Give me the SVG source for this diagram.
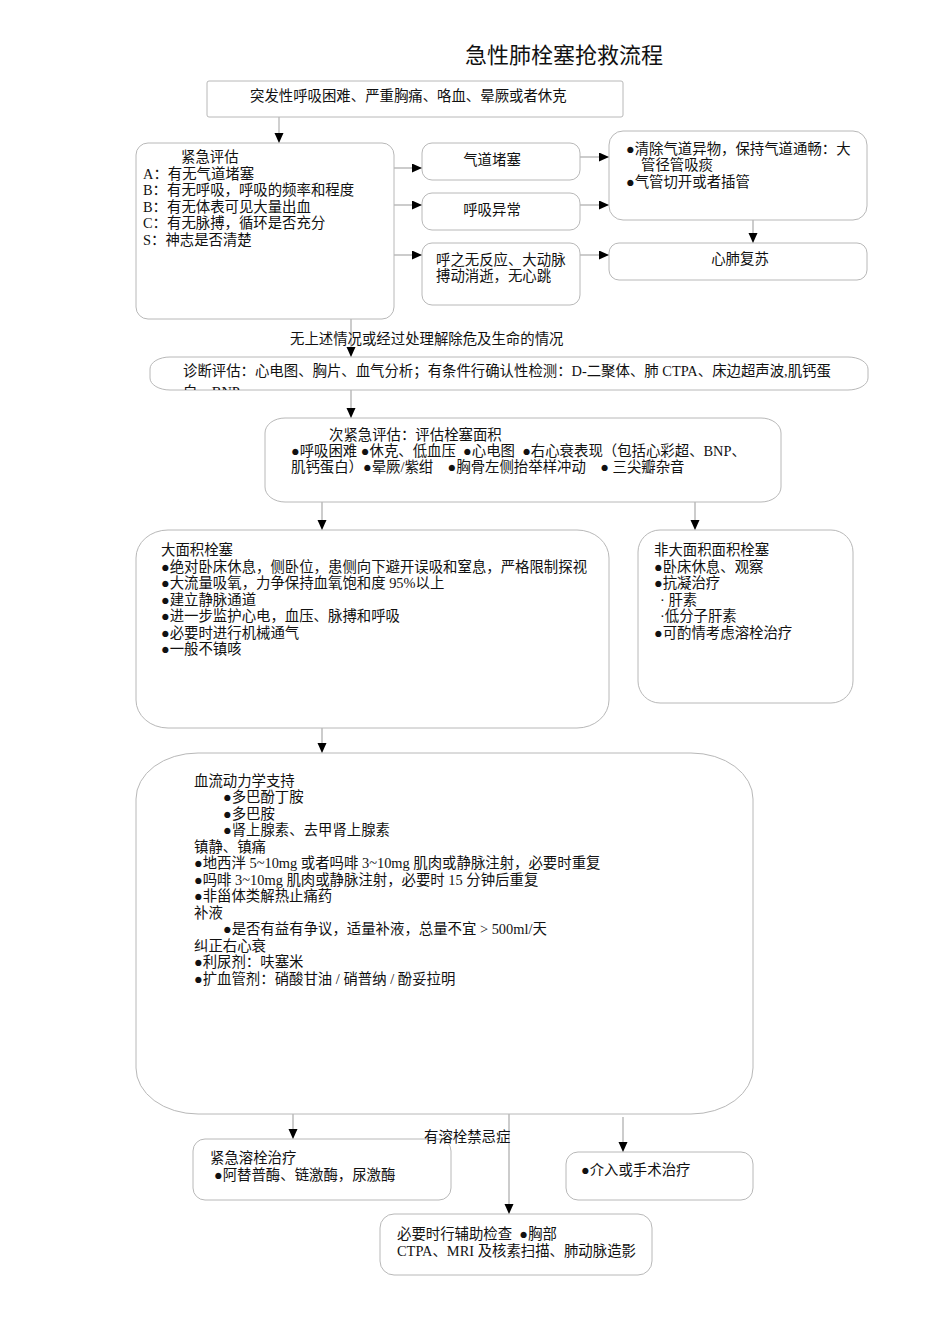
<svg xmlns="http://www.w3.org/2000/svg" width="950" height="1344" viewBox="0 0 950 1344">
<style>
text{font-family:"Liberation Serif","Noto Sans CJK SC",serif;font-size:14.4px;fill:#111;}
.title{font-size:22px;}
.box{fill:#fff;stroke:#b8b8b8;stroke-width:1;}
.c{fill:none;stroke:#999;stroke-width:1;}
.c2{fill:none;stroke:#d0d0d0;stroke-width:2;}
.mid{text-anchor:middle;}
</style>
<defs>
<marker id="ah" markerUnits="userSpaceOnUse" markerWidth="10" markerHeight="10" refX="10" refY="4.5" orient="auto">
<path d="M0,0 L10,4.5 L0,9 z" fill="#000"/>
</marker>
<clipPath id="diagclip"><rect x="150" y="357" width="718" height="33"/></clipPath>
<clipPath id="lblclip"><rect x="400" y="1129" width="130" height="20"/></clipPath>
</defs>
<rect width="950" height="1344" fill="#fff"/>
<text class="title" x="465" y="63">急性肺栓塞抢救流程</text>

<g id="connectors">
<line class="c2" x1="279" y1="117" x2="279" y2="143" marker-end="url(#ah)"/>
<line class="c" x1="394" y1="168" x2="422" y2="168" marker-end="url(#ah)"/>
<line class="c" x1="394" y1="205" x2="422" y2="205" marker-end="url(#ah)"/>
<line class="c" x1="394" y1="255" x2="422" y2="255" marker-end="url(#ah)"/>
<line class="c" x1="580" y1="157" x2="609" y2="157" marker-end="url(#ah)"/>
<line class="c" x1="580" y1="205" x2="609" y2="205" marker-end="url(#ah)"/>
<line class="c" x1="580" y1="255" x2="609" y2="255" marker-end="url(#ah)"/>
<line class="c" x1="753" y1="220" x2="753" y2="243" marker-end="url(#ah)"/>
<line class="c" x1="351" y1="319" x2="351" y2="357" marker-end="url(#ah)"/>
<line class="c" x1="351" y1="390" x2="351" y2="418" marker-end="url(#ah)"/>
<line class="c" x1="322" y1="502" x2="322" y2="530" marker-end="url(#ah)"/>
<line class="c" x1="695" y1="502" x2="695" y2="530" marker-end="url(#ah)"/>
<line class="c" x1="322" y1="728" x2="322" y2="753" marker-end="url(#ah)"/>
<line class="c" x1="293" y1="1114" x2="293" y2="1139" marker-end="url(#ah)"/>
<line class="c" x1="509" y1="1114" x2="509" y2="1214" marker-end="url(#ah)"/>
<line class="c" x1="623" y1="1117" x2="623" y2="1152" marker-end="url(#ah)"/>
</g>

<g id="n-start">
<rect class="box" x="207" y="81" width="416" height="36" rx="2"/>
<text x="250" y="101">突发性呼吸困难、严重胸痛、咯血、晕厥或者休克</text>
</g>

<g id="n-eval">
<rect class="box" x="136" y="143" width="258" height="176" rx="12"/>
<text x="181" y="162">紧急评估</text>
<text x="143" y="179">A：有无气道堵塞</text>
<text x="143" y="195">B：有无呼吸，呼吸的频率和程度</text>
<text x="143" y="212">B：有无体表可见大量出血</text>
<text x="143" y="228">C：有无脉搏，循环是否充分</text>
<text x="143" y="245">S：神志是否清楚</text>
</g>

<g id="n-airway">
<rect class="box" x="422" y="143" width="158" height="37" rx="10"/>
<text class="mid" x="492" y="165">气道堵塞</text>
</g>
<g id="n-breath">
<rect class="box" x="422" y="193" width="158" height="37" rx="10"/>
<text class="mid" x="492" y="215">呼吸异常</text>
</g>
<g id="n-noresp">
<rect class="box" x="422" y="243" width="158" height="62" rx="10"/>
<text x="436" y="265">呼之无反应、大动脉</text>
<text x="436" y="281">搏动消逝，无心跳</text>
</g>
<g id="n-clear">
<rect class="box" x="609" y="131" width="258" height="89" rx="14"/>
<text x="626" y="154">●清除气道异物，保持气道通畅：大</text>
<text x="641" y="170">管径管吸痰</text>
<text x="626" y="187">●气管切开或者插管</text>
</g>
<g id="n-cpr">
<rect class="box" x="609" y="243" width="258" height="37" rx="10"/>
<text class="mid" x="740" y="264">心肺复苏</text>
</g>

<g id="l-none">
<text x="290" y="344">无上述情况或经过处理解除危及生命的情况</text>
</g>

<g id="n-diag">
<rect class="box" x="150" y="357" width="718" height="33" rx="20" ry="12"/>
<text x="183" y="376">诊断评估：心电图、胸片、血气分析；有条件行确认性检测：D-二聚体、肺 CTPA、床边超声波,肌钙蛋</text>
<text x="183" y="397" clip-path="url(#diagclip)">白、BNP</text>
</g>

<g id="n-sub">
<rect class="box" x="265" y="418" width="516" height="84" rx="20" ry="15"/>
<text x="329" y="440">次紧急评估：评估栓塞面积</text>
<text x="291" y="456" xml:space="preserve">●呼吸困难 ●休克、低血压  ●心电图  ●右心衰表现（包括心彩超、BNP、</text>
<text x="291" y="472" xml:space="preserve">肌钙蛋白）●晕厥/紫绀    ●胸骨左侧抬举样冲动    ● 三尖瓣杂音</text>
</g>

<g id="n-massive">
<rect class="box" x="136" y="530" width="473" height="198" rx="32" ry="28"/>
<text x="161" y="555">大面积栓塞</text>
<text x="161" y="572">●绝对卧床休息，侧卧位，患侧向下避开误吸和窒息，严格限制探视</text>
<text x="161" y="588">●大流量吸氧，力争保持血氧饱和度 95%以上</text>
<text x="161" y="605">●建立静脉通道</text>
<text x="161" y="621">●进一步监护心电，血压、脉搏和呼吸</text>
<text x="161" y="638">●必要时进行机械通气</text>
<text x="161" y="654">●一般不镇咳</text>
</g>

<g id="n-nonmassive">
<rect class="box" x="638" y="530" width="215" height="173" rx="22"/>
<text x="654" y="555">非大面积面积栓塞</text>
<text x="654" y="572">●卧床休息、观察</text>
<text x="654" y="588">●抗凝治疗</text>
<text x="660" y="605" xml:space="preserve">· 肝素</text>
<text x="660" y="621">·低分子肝素</text>
<text x="654" y="638">●可酌情考虑溶栓治疗</text>
</g>

<g id="n-hemo">
<rect class="box" x="136" y="753" width="617" height="361" rx="62" ry="46"/>
<text x="194" y="786">血流动力学支持</text>
<text x="223" y="802">●多巴酚丁胺</text>
<text x="223" y="819">●多巴胺</text>
<text x="223" y="835">●肾上腺素、去甲肾上腺素</text>
<text x="194" y="852">镇静、镇痛</text>
<text x="194" y="868">●地西泮 5~10mg 或者吗啡 3~10mg 肌肉或静脉注射，必要时重复</text>
<text x="194" y="885">●吗啡 3~10mg 肌肉或静脉注射，必要时 15 分钟后重复</text>
<text x="194" y="901">●非甾体类解热止痛药</text>
<text x="194" y="918">补液</text>
<text x="223" y="934">●是否有益有争议，适量补液，总量不宜 &gt; 500ml/天</text>
<text x="194" y="951">纠正右心衰</text>
<text x="194" y="967">●利尿剂：呋塞米</text>
<text x="194" y="984">●扩血管剂：硝酸甘油 / 硝普纳 / 酚妥拉明</text>
</g>

<g id="n-lysis">
<rect class="box" x="193" y="1139" width="258" height="61" rx="12"/>
<text x="210" y="1163">紧急溶栓治疗</text>
<text x="214" y="1180">●阿替普酶、链激酶，尿激酶</text>
</g>

<g id="l-contra">
<text x="424" y="1142" clip-path="url(#lblclip)">有溶栓禁忌症</text>
</g>

<g id="n-interv">
<rect class="box" x="566" y="1152" width="187" height="48" rx="12"/>
<text x="581" y="1175">●介入或手术治疗</text>
</g>

<g id="n-aux">
<rect class="box" x="380" y="1214" width="272" height="61" rx="14"/>
<text x="397" y="1239" xml:space="preserve">必要时行辅助检查  ●胸部</text>
<text x="397" y="1256">CTPA、MRI 及核素扫描、肺动脉造影</text>
</g>
</svg>
